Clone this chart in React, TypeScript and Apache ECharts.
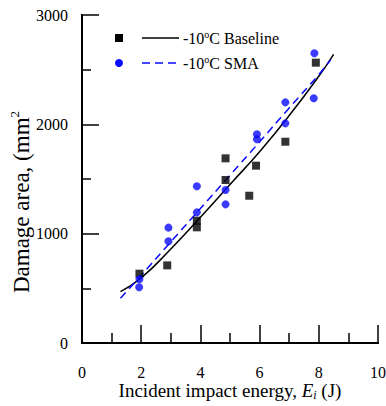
import React, { useEffect, useRef } from "react";
import * as echarts from "echarts";

// Measured data points (Incident impact energy in J, damage area in mm^2)
const baselineEnergy = [1.94, 2.88, 3.88, 3.88, 4.85, 4.85, 5.65, 5.88, 6.87, 7.9];
const baselineArea = [634, 710, 1119, 1058, 1689, 1491, 1347, 1622, 1841, 2564];
const smaEnergy = [1.94, 1.93, 2.92, 2.92, 3.88, 3.88, 4.85, 4.85, 5.91, 5.91, 6.87, 6.87, 7.83, 7.85];
const smaArea = [583, 510, 1055, 930, 1433, 1195, 1399, 1268, 1909, 1863, 2201, 2009, 2238, 2650];

// Fit curves
const baselineFitEnergy = [1.3, 2, 3, 4, 5, 6, 7, 8, 8.5];
const baselineFitArea = [470, 595, 860, 1150, 1450, 1750, 2080, 2440, 2640];
const smaFitEnergy = [1.3, 2, 3, 4, 5, 6, 7, 8, 8.4];
const smaFitArea = [410, 620, 925, 1230, 1535, 1840, 2150, 2455, 2590];

const legendLabels = ["-10{sup|o}C Baseline", "-10{sup|o}C SMA"];
const xAxisTitle = "Incident impact energy, {it|E}{sub|i} (J)";
const yAxisTitle = "Damage area, (mm{sup|2}";

const FONT = "'Liberation Serif', 'Times New Roman', serif";
const BLUE = "#0a0aff";

function zip(xs: number[], ys: number[]) {
  return xs.map((x, i) => [x, ys[i]]);
}

export default function App() {
  const ref = useRef<HTMLDivElement>(null);

  useEffect(() => {
    if (!ref.current) return;
    const chart = echarts.init(ref.current, null, { renderer: "svg" });
    const axisLine = { show: true, lineStyle: { color: "#000", width: 2 } };
    const legendRich = {
      sup: { fontSize: 10, fontFamily: FONT, color: "#000", verticalAlign: "top", lineHeight: 18 },
    };
    chart.setOption({
      animation: false,
      backgroundColor: "#fff",
      textStyle: { fontFamily: FONT, color: "#000" },
      grid: { left: 82, right: 8, top: 15, bottom: 63, containLabel: false, outerBoundsMode: "none" },
      xAxis: [
        {
          type: "value",
          min: 0,
          max: 10,
          interval: 2,
          axisLine,
          axisTick: { show: true, inside: true, length: 18, lineStyle: { color: "#000", width: 1.5 } },
          minorTick: { show: true, splitNumber: 2, length: 10, lineStyle: { color: "#000", width: 1.5 } },
          splitLine: { show: false },
          axisLabel: {
            color: "#000",
            fontSize: 16,
            fontFamily: FONT,
            margin: 21,
            formatter: (v: number) => String(v),
          },
          name: xAxisTitle,
          nameLocation: "middle",
          nameGap: 36,
          nameMoveOverlap: false,
          nameTextStyle: {
            color: "#000",
            fontSize: 19,
            fontFamily: FONT,
            rich: {
              it: { fontSize: 19, fontStyle: "italic", fontFamily: FONT, color: "#000" },
              sub: { fontSize: 12, fontStyle: "italic", fontFamily: FONT, color: "#000", padding: [10, 0, 0, 0] },
            },
          },
        },
        {
          type: "value",
          position: "top",
          min: 0,
          max: 10,
          axisLine,
          axisTick: { show: false },
          axisLabel: { show: false },
          splitLine: { show: false },
        },
      ],
      yAxis: [
        {
          type: "value",
          min: 0,
          max: 3000,
          interval: 1000,
          axisLine,
          axisTick: { show: true, inside: true, length: 17, lineStyle: { color: "#000", width: 1.5 } },
          minorTick: { show: true, splitNumber: 2, length: 9, lineStyle: { color: "#000", width: 1.5 } },
          splitLine: { show: false },
          axisLabel: {
            color: "#000",
            fontSize: 16,
            fontFamily: FONT,
            margin: 14,
            formatter: (v: number) => String(v),
          },
          name: yAxisTitle,
          nameLocation: "middle",
          nameGap: 48,
          nameMoveOverlap: false,
          nameTextStyle: {
            color: "#000",
            fontSize: 23,
            fontFamily: FONT,
            padding: [0, 46, 0, 0],
            rich: {
              sup: { fontSize: 13, fontFamily: FONT, color: "#000", verticalAlign: "top", lineHeight: 26 },
            },
          },
        },
        {
          type: "value",
          position: "right",
          min: 0,
          max: 3000,
          axisLine,
          axisTick: { show: false },
          axisLabel: { show: false },
          splitLine: { show: false },
        },
      ],
      series: [
        {
          name: "Baseline fit",
          type: "line",
          data: zip(baselineFitEnergy, baselineFitArea),
          smooth: true,
          showSymbol: false,
          lineStyle: { color: "#000", width: 1.5 },
          z: 2,
        },
        {
          name: "SMA fit",
          type: "line",
          data: zip(smaFitEnergy, smaFitArea),
          smooth: true,
          showSymbol: false,
          lineStyle: { color: BLUE, width: 1.5, type: [8, 5] },
          z: 2,
        },
        {
          name: "Baseline",
          type: "scatter",
          data: zip(baselineEnergy, baselineArea),
          symbol: "rect",
          symbolSize: 8,
          itemStyle: { color: "#000" },
          z: 3,
        },
        {
          name: "SMA",
          type: "scatter",
          data: zip(smaEnergy, smaArea),
          symbol: "circle",
          symbolSize: 8,
          itemStyle: { color: BLUE },
          z: 4,
        },
      ],
      graphic: [
        { type: "rect", shape: { x: 115, y: 34, width: 8, height: 8 }, style: { fill: "#000" } },
        { type: "line", shape: { x1: 142, y1: 38, x2: 179, y2: 38 }, style: { stroke: "#000", lineWidth: 1.5 } },
        {
          type: "text",
          x: 183,
          y: 38,
          style: {
            text: legendLabels[0],
            fontSize: 16,
            fontFamily: FONT,
            fill: "#000",
            verticalAlign: "middle",
            rich: legendRich,
          },
        },
        { type: "circle", shape: { cx: 119, cy: 63, r: 4 }, style: { fill: BLUE } },
        {
          type: "line",
          shape: { x1: 142, y1: 63, x2: 179, y2: 63 },
          style: { stroke: BLUE, lineWidth: 1.5, lineDash: [8, 5] },
        },
        {
          type: "text",
          x: 183,
          y: 63,
          style: {
            text: legendLabels[1],
            fontSize: 16,
            fontFamily: FONT,
            fill: "#000",
            verticalAlign: "middle",
            rich: legendRich,
          },
        },
      ],
    });
    return () => chart.dispose();
  }, []);

  return (
    <div
      ref={ref}
      style={{ position: "absolute", left: 0, top: 0, width: 386, height: 406, background: "#fff" }}
    />
  );
}
